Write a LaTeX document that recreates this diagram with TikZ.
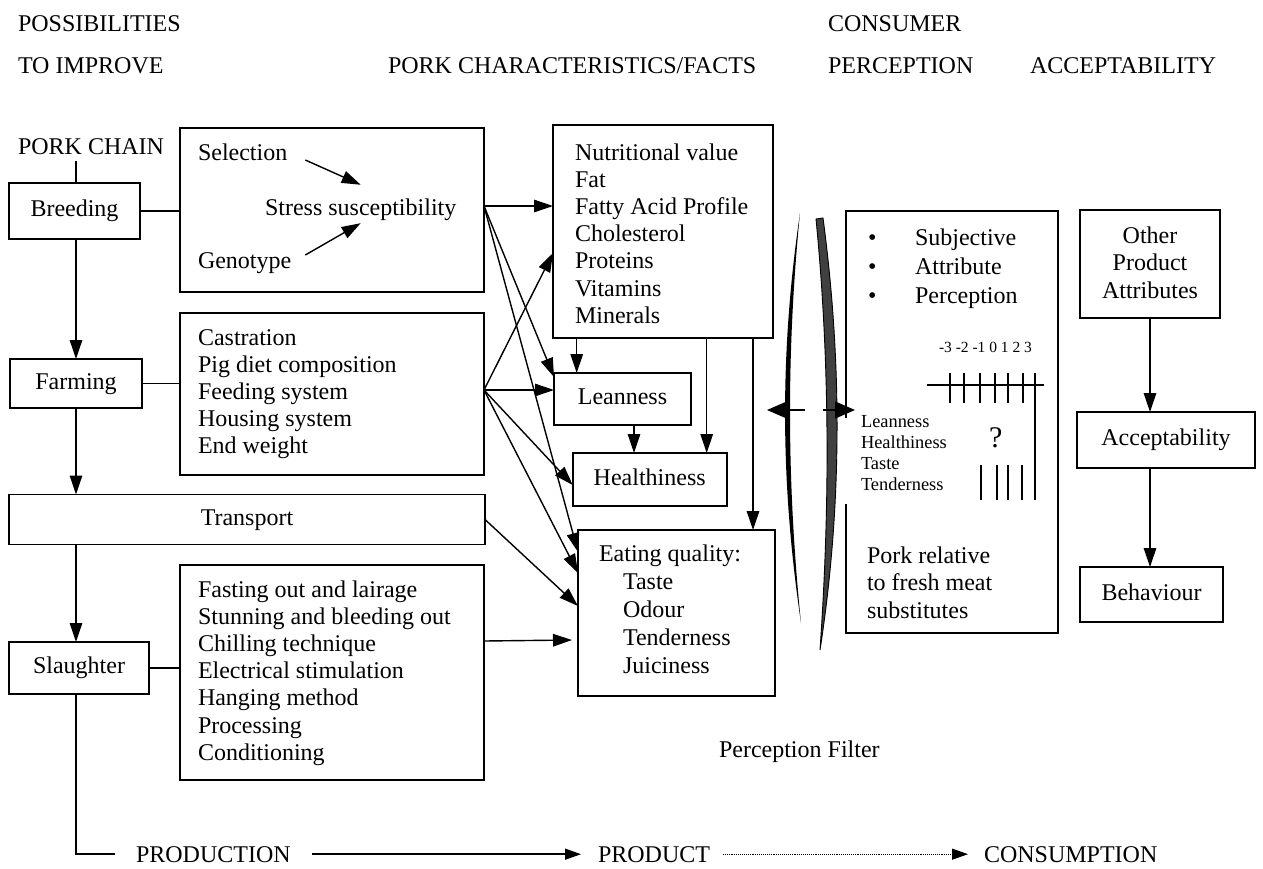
\documentclass[tikz,border=0pt]{standalone}
\usepackage{fontspec}
\setmainfont{Liberation Serif}
\usetikzlibrary{arrows.meta,calc}
\newcommand\bodyfont{\fontsize{24}{27.2}\selectfont}
\newcommand\labfont{\fontsize{18.4}{21}\selectfont}
\newcommand\numfont{\fontsize{15.5}{18}\selectfont}
\newcommand\qfont{\fontsize{30}{34}\selectfont}
\begin{document}
\begin{tikzpicture}[x=1pt,y=-1pt,
  every node/.style={inner sep=0pt, outer sep=0pt, font=\bodyfont},
  box/.style={draw, line width=1.8pt, text height=16.4pt, text depth=5.2pt},
  txt/.style={anchor=base west},
  ctxt/.style={anchor=base},
  ln/.style={line width=1.4pt},
  arr/.style={line width=1.4pt, -{Triangle[length=19pt,width=12.5pt]}},
  bigarr/.style={line width=1.4pt, -{Triangle[length=20pt,width=17pt]}},
  flow/.style={line width=1.4pt, -{Triangle[length=16pt,width=11pt]}},
  tick/.style={line width=1.7pt}]
\fill[white] (0,0) rectangle (1263,868);
\useasboundingbox (0,0) rectangle (1263,868);

% column headings
\node[txt] (hposs) at (18,31) {POSSIBILITIES};
\node[txt] (himpr) at (18,73) {TO IMPROVE};
\node[txt] (hpork) at (388,73) {PORK CHARACTERISTICS/FACTS};
\node[txt] (hcons) at (828,31) {CONSUMER};
\node[txt] (hperc) at (828,73) {PERCEPTION};
\node[txt] (hacc)  at (1030,73) {ACCEPTABILITY};

% pork chain
\node[txt] (chain) at (18,154) {PORK CHAIN};
\node[box, minimum width=131pt, minimum height=56pt] (breed) at (74.5,211) {Breeding};
\node[box, minimum width=132pt, minimum height=49pt] (farm) at (76,383.5) {Farming};
\node[box, minimum width=476pt, minimum height=50pt] (transport) at (247,519.5) {Transport};
\node[box, minimum width=140pt, minimum height=52pt] (slaughter) at (79,668) {Slaughter};

% improvement boxes
\node[box, minimum width=304pt, minimum height=164pt] (stress) at (332,210) {};
\node[box, minimum width=304pt, minimum height=162pt] (farmbox) at (332,394) {};
\node[box, minimum width=304pt, minimum height=215pt] (slbox) at (332,672.5) {};

\node[txt] (sel) at (198,160) {Selection};
\node[txt] (sus) at (265,215) {Stress susceptibility};
\node[txt] (gen) at (198,268) {Genotype};
\draw[arr] ([xshift=18pt]sel.base east) -- ([yshift=13.6pt]sus.north);
\draw[arr] ([xshift=14pt,yshift=13pt]gen.base east) -- ([yshift=-3pt]sus.south);

\foreach \t [count=\i from 0] in {Castration, Pig diet composition, Feeding system, Housing system, End weight}
  \node[txt] (fa\i) at (198,{345+27.2*\i}) {\t};
\foreach \t [count=\i from 0] in {Fasting out and lairage, Stunning and bleeding out, Chilling technique, Electrical stimulation, Hanging method, Processing, Conditioning}
  \node[txt] (sa\i) at (198,{597+27.2*\i}) {\t};

% pork characteristics
\node[box, minimum width=220pt, minimum height=213pt] (nutri) at (663,231.5) {};
\foreach \t [count=\i from 0] in {Nutritional value, Fat, Fatty Acid Profile, Cholesterol, Proteins, Vitamins, Minerals}
  \node[txt] (nu\i) at (575,{160+27.2*\i}) {\t};
\node[box, minimum width=137pt, minimum height=52pt] (lean) at (622.5,399) {Leanness};
\node[box, minimum width=154pt, minimum height=53pt] (heal) at (649.7,479.5) {Healthiness};
\node[box, minimum width=197pt, minimum height=166pt] (eat) at (676.5,613) {};
\node[txt] (eq) at (599,561.7) {Eating quality:};
\foreach \t [count=\i from 0] in {Taste, Odour, Tenderness, Juiciness}
  \node[txt] (eq\i) at (623,{589+28*\i}) {\t};

% consumer perception
\node[box, minimum width=212pt, minimum height=422pt] (perc) at (952,422) {};
\fill[white] (843,418) rectangle (849.5,504);
\foreach \t [count=\i from 0] in {Subjective, Attribute, Perception}{
  \node[txt] (bu\i) at (868,{245+29*\i}) {\textbullet};
  \node[txt] (pa\i) at (915,{245+29*\i}) {\t};
}
\node[txt, font=\numfont] (nums) at (939,352) {-3 -2 -1 0 1 2 3};
\draw[tick] (927,385) -- (1044,385);
\foreach \x in {950,964,980,995,1008,1023}
  \draw[tick] (\x,373) -- (\x,403);
\draw[tick] (1035,373) -- (1035,500);
\foreach \x in {981,997,1008,1022}
  \draw[tick] (\x,465) -- (\x,500);
\foreach \t [count=\i from 0] in {Leanness, Healthiness, Taste, Tenderness}
  \node[txt, font=\labfont] (lb\i) at (861,{427+21.3*\i}) {\t};
\node[txt, font=\qfont] (qm) at (989,447) {?};
\foreach \t [count=\i from 0] in {Pork relative, to fresh meat, substitutes}
  \node[txt] (pr\i) at (867,{563+27.5*\i}) {\t};

% acceptability
\node[box, minimum width=140pt, minimum height=108pt] (other) at (1150,264) {};
\foreach \t [count=\i from 0] in {Other, Product, Attributes}
  \node[ctxt] (ot\i) at (1150,{243+27.5*\i}) {\t};
\node[box, minimum width=178pt, minimum height=56pt] (accept) at (1166,440) {Acceptability};
\node[box, minimum width=143pt, minimum height=55pt] (behav) at (1151.5,594.5) {Behaviour};
\draw[arr] (other.south) -- (other.south |- accept.north);
\draw[arr] (other.south |- accept.south) -- (other.south |- behav.north);

\node[txt] (filt) at (719,757) {Perception Filter};

% perception filter lenses
\fill[black] (800,213) .. controls (779.9,350) and (779.9,480) .. (801,623)
  .. controls (786.5,480) and (786.5,350) .. (800,213) -- cycle;
\filldraw[fill=black!75, draw=black, line width=0.9pt] (816,219) -- (823,218)
  .. controls (842.2,362) and (842.2,506) .. (820,650)
  .. controls (830,506) and (830,362) .. (816,219) -- cycle;
\coordinate (fl) at (805,410);
\coordinate (fr) at (823,410);
\coordinate (ftip) at (767,410);
\draw[bigarr] (fl) -- (ftip);
\draw[bigarr] (fr) -- ([xshift=9pt]perc.west |- fr);

% chain links
\coordinate (spine) at ([xshift=1.5pt]breed.south);
\draw[ln] (spine |- breed.north) -- ++(0,-22);
\draw[ln] (breed.east) -- (stress.west |- breed.east);
\draw[ln] (farm.east) -- (farmbox.west |- farm.east);
\draw[ln] (slaughter.east) -- (slbox.west |- slaughter.east);
\draw[arr] (spine) -- (spine |- farm.north);
\draw[arr] (spine |- farm.south) -- (spine |- transport.north);
\draw[arr] (spine |- transport.south) -- (spine |- slaughter.north);

% influences on pork characteristics
\coordinate (so) at ([yshift=4pt]stress.east);
\coordinate (fo) at ([yshift=4pt]farmbox.east);
\draw[arr] (so) -- (nutri.west |- so);
\draw[arr] (so) -- ([yshift=-4pt]lean.north west);
\draw[arr] (so) -- ([yshift=-22pt]eat.north west);
\draw[arr] (fo) -- ([yshift=-128pt]nutri.north west);
\draw[arr] (fo) -- (lean.west |- fo);
\draw[arr] (fo) -- ([yshift=-5.5pt]heal.west);
\draw[arr] (fo) -- ([yshift=-43pt]eat.north west);
\draw[arr] (transport.east) -- ([yshift=-76pt]eat.north west);
\draw[arr] ([yshift=-76pt]slbox.north east) -- ([xshift=-6pt,yshift=-110pt]eat.north west);

\coordinate (nl) at ([xshift=23.7pt]nutri.south west);
\coordinate (lh) at ([xshift=80pt]lean.south west);
\coordinate (nh) at ([xshift=153.7pt]nutri.south west);
\coordinate (ne) at ([xshift=200pt]nutri.south west);
\draw[arr] (nl) -- (nl |- lean.north);
\draw[arr] (lh) -- (lh |- heal.north);
\draw[arr] (nh) -- (nh |- heal.north);
\draw[arr] (ne) -- (ne |- eat.north);

% production line
\node[txt] (prod) at (136,862) {PRODUCTION};
\node[txt] (prodt) at (598,862) {PRODUCT};
\node[txt] (cons) at (984,862) {CONSUMPTION};
\draw[ln] (spine |- slaughter.south) |- ([xshift=-21pt]prod.west);
\draw[flow] ([xshift=21pt]prod.east) -- ([xshift=-17pt]prodt.west);
\draw[densely dotted, line width=1.1pt, -{Triangle[length=16pt,width=11pt]}]
  ([xshift=13pt]prodt.east) -- ([xshift=-16pt]cons.west);
\end{tikzpicture}
\end{document}
